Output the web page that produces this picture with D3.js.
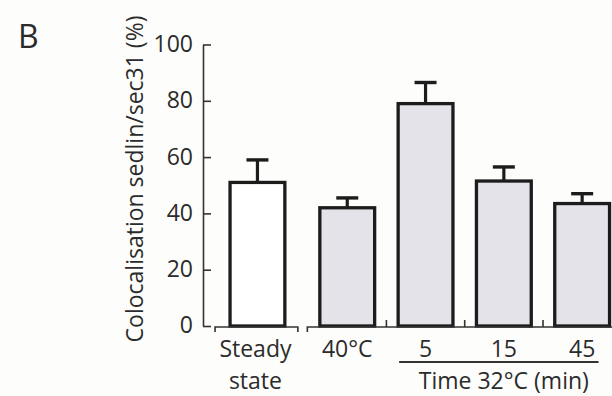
<!DOCTYPE html>
<html>
<head>
<meta charset="utf-8">
<script src="https://cdn.jsdelivr.net/npm/d3@7"></script>
<style>
  body { margin: 0; background: #fdfdfb; }
  text { font-family: "Open Sans", "Noto Sans", sans-serif; fill: #2b2b2b; }
</style>
</head>
<body>
<script>
// Data
var categories = ["Steady state", "40°C", "5", "15", "45"];
var means = [51, 42, 79, 51.5, 43.5];
var errors = [8, 3.5, 7.5, 5, 3.5];
var fills = ["#ffffff", "#e4e3ea", "#e4e3ea", "#e4e3ea", "#e4e3ea"];
var yTicks = [0, 20, 40, 60, 80, 100];

var width = 612, height = 396;
var groupGap = 11.5;   // extra space between steady state and the temperature group
var axisY = 327;

var svg = d3.select("body").append("svg")
    .attr("width", width)
    .attr("height", height);

// Scales
var x = d3.scaleBand()
    .domain(categories)
    .range([229.8, 229.8 + 5 * 78.3])
    .paddingInner(0.3)
    .paddingOuter(0.15);

var y = d3.scaleLinear()
    .domain([0, 100])
    .range([326, 44.5]);

function barX(d) {
  return x(d) - (d == categories[0] ? groupGap : 0);
}

// Y axis, ticks pointing inwards
var yAxis = d3.axisLeft(y)
    .tickValues(yTicks)
    .tickSizeInner(-8)
    .tickSizeOuter(0)
    .tickPadding(10);

var yg = svg.append("g")
    .attr("transform", "translate(203,0)")
    .attr("font-size", 23)
    .call(yAxis);
yg.selectAll("path, line").attr("stroke", "#333").attr("stroke-width", 1.6);
yg.selectAll("text")
    .attr("font-size", 23)
    .style("font-size", "23px")
    .attr("fill", "#2b2b2b")
    .attr("dy", "0.3em");

// Y axis label
svg.append("text")
    .attr("transform", "translate(143," + 179 + ") rotate(-90)")
    .attr("text-anchor", "middle")
    .style("font-size", "23px")
    .text("Colocalisation sedlin/sec31 (%)");

// Panel letter
svg.append("text")
    .attr("x", 18)
    .attr("y", 48)
    .style("font-size", "32px")
    .text("B");

// Error bars (drawn first so bars cover the stem bottom)
var err = svg.append("g");
categories.forEach(function(c, i) {
  var cx = barX(c) + x.bandwidth() / 2;
  err.append("line")
      .attr("x1", cx).attr("x2", cx)
      .attr("y1", y(means[i])).attr("y2", y(means[i] + errors[i]))
      .attr("stroke", "#1c1c1c").attr("stroke-width", 3.2);
  err.append("line")
      .attr("x1", cx - 11).attr("x2", cx + 11)
      .attr("y1", y(means[i] + errors[i])).attr("y2", y(means[i] + errors[i]))
      .attr("stroke", "#1c1c1c").attr("stroke-width", 3.4);
});

// Bars
svg.append("g").selectAll("rect")
    .data(categories)
    .enter()
    .append("rect")
    .attr("x", function(d) { return barX(d); })
    .attr("y", function(d, i) { return y(means[i]); })
    .attr("width", x.bandwidth())
    .attr("height", function(d, i) { return y(0) - y(means[i]); })
    .attr("fill", function(d, i) { return fills[i]; })
    .attr("stroke", "#1c1c1c")
    .attr("stroke-width", 3.3);

// Bottom brackets
var bx = svg.append("g").attr("stroke", "#333").attr("stroke-width", 1.6).attr("fill", "none");
var b1Start = barX(categories[0]) - 15;
var b1End = barX(categories[0]) + x.bandwidth() + 13;
var b2Start = barX(categories[1]) - 12.5;
bx.append("path")
    .attr("d", "M" + b1Start + "," + (axisY + 5) + "V" + axisY + "H" + b1End + "V" + (axisY + 5));
bx.append("path")
    .attr("d", "M" + b2Start + "," + (axisY + 5) + "V" + axisY + "H" + (width + 5));

// small upward ticks between temperature bars
for (var i = 2; i < categories.length; i++) {
  var mid = (x(categories[i - 1]) + x.bandwidth() + x(categories[i])) / 2;
  bx.append("line")
      .attr("x1", mid).attr("x2", mid)
      .attr("y1", axisY).attr("y2", axisY - 7);
}

// Category labels
var labelY = 357;
svg.append("text")
    .attr("x", barX(categories[0]) + x.bandwidth() / 2 - 2)
    .attr("y", labelY)
    .attr("text-anchor", "middle")
    .style("font-size", "23px")
    .text("Steady");
svg.append("text")
    .attr("x", barX(categories[0]) + x.bandwidth() / 2 - 2)
    .attr("y", labelY + 32)
    .attr("text-anchor", "middle")
    .style("font-size", "23px")
    .text("state");
categories.slice(1).forEach(function(c) {
  svg.append("text")
      .attr("x", x(c) + x.bandwidth() / 2)
      .attr("y", labelY)
      .attr("text-anchor", "middle")
      .style("font-size", "23px")
      .text(c);
});

// Time group underline and title
var uStart = x(categories[2]) + 1;
var uEnd = x(categories[4]) + x.bandwidth() - 11;
svg.append("line")
    .attr("x1", uStart).attr("x2", uEnd)
    .attr("y1", 362).attr("y2", 362)
    .attr("stroke", "#333").attr("stroke-width", 1.8);
svg.append("text")
    .attr("x", (uStart + uEnd) / 2 + 5)
    .attr("y", labelY + 32)
    .attr("text-anchor", "middle")
    .style("font-size", "23px")
    .text("Time 32°C (min)");
</script>
</body>
</html>
